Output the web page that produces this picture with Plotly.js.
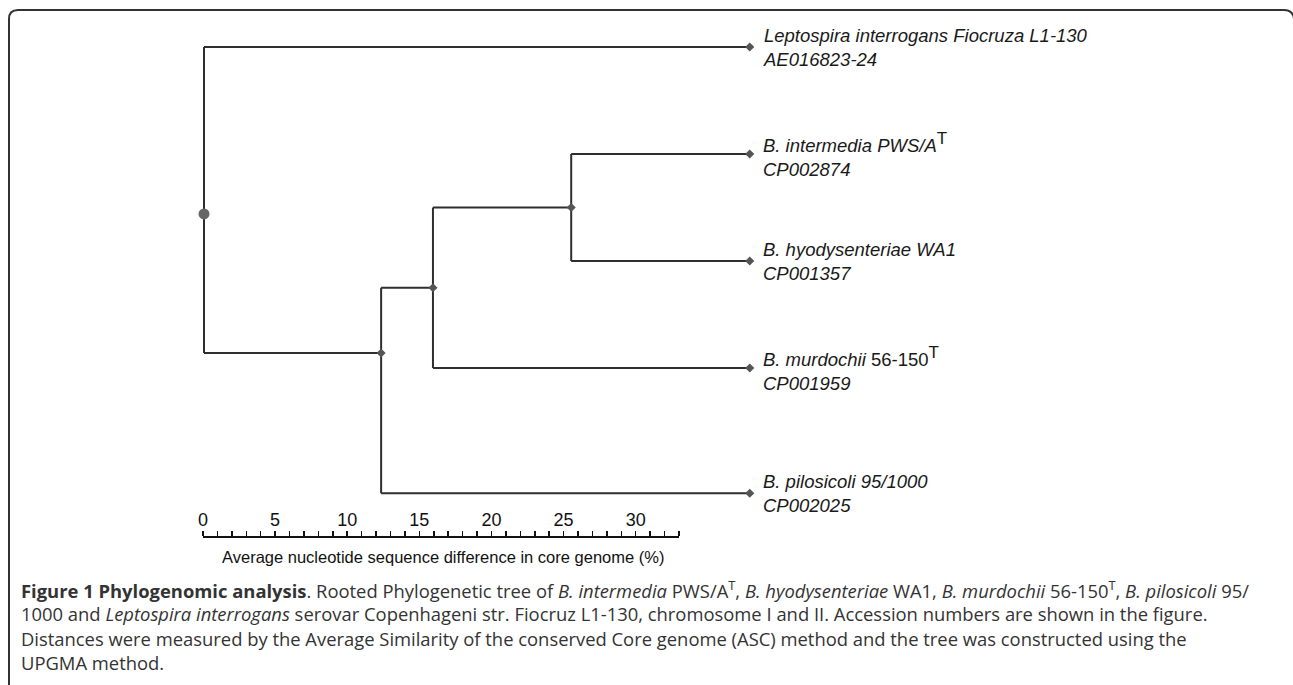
<!DOCTYPE html>
<html><head><meta charset="utf-8">
<script src="https://cdn.plot.ly/plotly-3.0.1.min.js"></script>
<style>html,body{margin:0;padding:0;background:#fff;overflow:hidden}</style>
</head><body><div id="chart" style="width:1293px;height:685px"></div>
<script>
// ---- data ----
const tipLabels = [
  '<i>Leptospira interrogans Fiocruza L1-130</i>',
  '<i>B. intermedia PWS/A</i><sup><span style="font-size:17px">T</span></sup>',
  '<i>B. hyodysenteriae WA1</i>',
  '<i>B. murdochii</i> 56-150<sup><span style="font-size:17px">T</span></sup>',
  '<i>B. pilosicoli 95/1000</i>'
];
const tipAccessions = ['AE016823-24', 'CP002874', 'CP001357', 'CP001959', 'CP002025'];
const tipRow = [0, 1, 2, 3, 4.17];
const tipDistance = [37.9, 37.9, 37.9, 37.9, 37.9];
const nodeNames = ['root', 'A', 'B', 'C'];
const nodeDistance = [0, 12.3, 15.9, 25.5];
const nodeRow = [1.56, 2.86, 2.25, 1.5];
const nodeChildren = [['t0', 'n1'], ['n2', 't4'], ['n3', 't3'], ['t1', 't2']];
const scaleTicks = [0, 5, 10, 15, 20, 25, 30];
const scaleMax = 33;
const axisTitle = 'Average nucleotide sequence difference in core genome (%)';
const captionLines = [
  '<b>Figure 1 Phylogenomic analysis</b>. Rooted Phylogenetic tree of <i>B. intermedia</i> PWS/A<sup>T</sup>, <i>B. hyodysenteriae</i> WA1, <i>B. murdochii</i> 56-150<sup>T</sup>, <i>B. pilosicoli</i> 95/',
  '1000 and <i>Leptospira interrogans</i> serovar Copenhageni str. Fiocruz L1-130, chromosome I and II. Accession numbers are shown in the figure.',
  'Distances were measured by the Average Similarity of the conserved Core genome (ASC) method and the tree was constructed using the',
  'UPGMA method.'
];

// ---- geometry ----
const W = 1293, H = 685;
const px = v => v / W;
const py = v => 1 - v / H;

function pos(ref) {
  const i = +ref.slice(1);
  return ref[0] === 't' ? {x: tipDistance[i], y: tipRow[i]} : {x: nodeDistance[i], y: nodeRow[i]};
}
const lx = [], ly = [];
nodeChildren.forEach((kids, i) => {
  const p = {x: nodeDistance[i]};
  const ys = kids.map(k => pos(k).y);
  lx.push(p.x, p.x, null); ly.push(Math.min(...ys), Math.max(...ys), null);
  kids.forEach(k => { const c = pos(k); lx.push(p.x, c.x, null); ly.push(c.y, c.y, null); });
});

const traces = [
  {x: lx, y: ly, mode: 'lines', line: {color: '#2e2e2e', width: 2}, hoverinfo: 'skip', showlegend: false},
  {x: tipDistance, y: tipRow, mode: 'markers', marker: {symbol: 'diamond', size: 7, color: '#555'}, hoverinfo: 'skip', showlegend: false},
  {x: nodeDistance.slice(1), y: nodeRow.slice(1), mode: 'markers', marker: {symbol: 'diamond', size: 7, color: '#555'}, hoverinfo: 'skip', showlegend: false},
  {x: nodeDistance.slice(0, 1), y: nodeRow.slice(0, 1), mode: 'markers', marker: {symbol: 'circle', size: 11, color: '#666'}, hoverinfo: 'skip', showlegend: false},
  {x: [0, scaleMax], y: [0, 0], xaxis: 'x2', yaxis: 'y', mode: 'markers', marker: {opacity: 0}, hoverinfo: 'skip', showlegend: false}
];

const annotations = [];
tipLabels.forEach((t, i) => annotations.push({
  x: tipDistance[i], y: tipRow[i], xref: 'x', yref: 'y', xanchor: 'left', yanchor: 'middle', xshift: 11,
  text: t + '<br><i>' + tipAccessions[i] + '</i>', align: 'left', showarrow: false,
  font: {family: 'Liberation Sans, Arial, sans-serif', size: 18.5, color: '#1a1a1a'}
}));
annotations.push({
  x: px(443), y: py(557), xref: 'paper', yref: 'paper', xanchor: 'center', yanchor: 'middle',
  text: axisTitle, showarrow: false, font: {family: 'Liberation Sans, Arial, sans-serif', size: 16.5, color: '#111'}
});
const capY = [589, 613.5, 638, 662];
captionLines.forEach((t, i) => annotations.push({
  x: px(19), y: py(capY[i]), xref: 'paper', yref: 'paper', xanchor: 'left', yanchor: 'middle',
  text: t, showarrow: false, align: 'left', font: {family: 'Open Sans, sans-serif', size: 18.4, color: '#333'}
}));

const frame = 'M' + px(9) + ',' + py(700) + ' L' + px(9) + ',' + py(19) + ' Q' + px(9) + ',' + py(10) + ' ' + px(18) + ',' + py(10) +
  ' L' + px(1284) + ',' + py(10) + ' Q' + px(1293) + ',' + py(10) + ' ' + px(1294) + ',' + py(19) + ' L' + px(1294) + ',' + py(700);

const layout = {
  width: W, height: H, autosize: false,
  margin: {l: 0, r: 0, t: 0, b: 0, pad: 0},
  paper_bgcolor: '#fff', plot_bgcolor: 'rgba(0,0,0,0)',
  xaxis: {visible: false, range: [-204 / 14.4, (W - 204) / 14.4], fixedrange: true},
  yaxis: {visible: false, range: [(H - 47) / 107, -47 / 107], fixedrange: true},
  xaxis2: {
    domain: [px(203), px(679)], range: [0, scaleMax], anchor: 'free', position: py(537), side: 'top',
    showline: true, linewidth: 2, linecolor: '#111', showgrid: false, zeroline: false,
    ticks: 'outside', ticklen: 5, tickwidth: 1.5, tickcolor: '#111', ticklabelstandoff: -2,
    tickmode: 'array', tickvals: scaleTicks, ticktext: scaleTicks.map(String),
    minor: {tick0: 0, dtick: 1, ticks: 'outside', ticklen: 5, tickwidth: 1.5, tickcolor: '#111', showgrid: false},
    tickfont: {family: 'Liberation Sans, Arial, sans-serif', size: 18, color: '#111'}, fixedrange: true
  },
  showlegend: false,
  annotations: annotations,
  shapes: [{type: 'path', xref: 'paper', yref: 'paper', path: frame, line: {color: '#333', width: 2}}]
};
Plotly.newPlot('chart', traces, layout, {displayModeBar: false, staticPlot: true});
</script></body></html>
